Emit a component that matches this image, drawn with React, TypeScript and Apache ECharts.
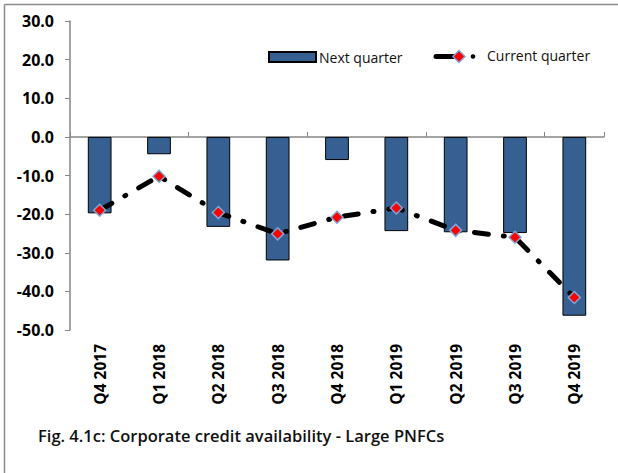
import React, { useEffect, useRef } from "react";
import * as echarts from "echarts";

const categories = ["Q4 2017", "Q1 2018", "Q2 2018", "Q3 2018", "Q4 2018", "Q1 2019", "Q2 2019", "Q3 2019", "Q4 2019"];
const nextQuarter = [-19.8, -4.5, -23.3, -32.0, -6.0, -24.4, -24.7, -24.9, -46.3];
const currentQuarter = [-19.0, -10.2, -19.6, -25.1, -20.8, -18.4, -24.2, -26.0, -41.6];
const yMin = -50;
const yMax = 30;
const yInterval = 10;
const titleText = "Fig. 4.1c: Corporate credit availability - Large PNFCs";

const FONT = "'Open Sans', 'Liberation Sans', sans-serif";

export default function App() {
  const ref = useRef<HTMLDivElement>(null);
  useEffect(() => {
    if (!ref.current) return;
    const chart = echarts.init(ref.current, null, { renderer: "svg" });
    chart.setOption({
      animation: false,
      backgroundColor: "#ffffff",
      textStyle: { fontFamily: FONT },
      grid: { left: 70, right: 14, top: 21, bottom: 143, containLabel: false },
      legend: [
        {
          data: [{ name: "Next quarter", icon: "rect" }],
          left: 268,
          top: 50,
          padding: 0,
          itemWidth: 47,
          itemHeight: 10,
          itemGap: 4,
          textStyle: { fontFamily: FONT, fontSize: 14, color: "#111", padding: [0, 0, 0, -2] },
          selectedMode: false,
        },
      ],
      xAxis: [
        {
          type: "category",
          data: categories,
          axisLine: { onZero: true, lineStyle: { color: "#868686", width: 1.5 } },
          axisTick: { show: true, inside: true, length: 5, lineStyle: { color: "#868686" } },
          axisLabel: { show: false },
        },
        {
          type: "category",
          data: categories,
          position: "bottom",
          axisLine: { show: false, onZero: false },
          axisTick: { show: false },
          axisLabel: {
            rotate: 90,
            margin: 14,
            fontFamily: FONT,
            fontWeight: "bold",
            fontSize: 15.5,
            color: "#000",
          },
        },
      ],
      yAxis: {
        type: "value",
        min: yMin,
        max: yMax,
        interval: yInterval,
        axisLine: { show: true, lineStyle: { color: "#868686", width: 1.5 } },
        axisTick: { show: true, length: 5, lineStyle: { color: "#868686" } },
        splitLine: { show: false },
        axisLabel: {
          margin: 16,
          fontFamily: FONT,
          fontWeight: "bold",
          fontSize: 16,
          color: "#000",
          formatter: (v: number) => v.toFixed(1),
        },
      },
      series: [
        {
          name: "Next quarter",
          type: "bar",
          xAxisIndex: 0,
          data: nextQuarter,
          barWidth: "40%",
          itemStyle: { color: "#376092", borderColor: "#000", borderWidth: 1 },
        },
        {
          name: "Current quarter",
          type: "line",
          xAxisIndex: 0,
          data: currentQuarter,
          symbol: "diamond",
          symbolSize: 12,
          itemStyle: { color: "#ff0000", borderColor: "#7fa6d6", borderWidth: 1.5 },
          lineStyle: { color: "#000", width: 5, type: [14, 15, 1, 15], cap: "round" },
          z: 3,
        },
      ],
      graphic: [
        { type: "line", shape: { x1: 4.5, y1: 4.5, x2: 618, y2: 4.5 }, style: { stroke: "#8c8c8c", lineWidth: 1.5 } },
        { type: "line", shape: { x1: 4.5, y1: 4.5, x2: 4.5, y2: 473 }, style: { stroke: "#8c8c8c", lineWidth: 1.5 } },
        { type: "line", shape: { x1: 436, y1: 56.5, x2: 454, y2: 56.5 }, style: { stroke: "#000", lineWidth: 5, lineCap: "round" } },
        {
          type: "polygon",
          shape: { points: [[459, 50.5], [465, 56.5], [459, 62.5], [453, 56.5]] },
          style: { fill: "#ff0000", stroke: "#7fa6d6", lineWidth: 1.5 },
        },
        { type: "circle", shape: { cx: 473, cy: 56.5, r: 2.3 }, style: { fill: "#000" } },
        {
          type: "text",
          left: 487,
          top: 48,
          style: { text: "Current quarter", fontFamily: FONT, fontSize: 14, fill: "#111" },
        },
        {
          type: "text",
          left: 38,
          top: 427,
          style: { text: titleText, fontFamily: FONT, fontSize: 16.5, fontWeight: 600, fill: "#111" },
        },
      ],
    });
    return () => chart.dispose();
  }, []);
  return (
    <div
      ref={ref}
      style={{ position: "fixed", left: 0, top: 0, width: 618, height: 473 }}
    />
  );
}
